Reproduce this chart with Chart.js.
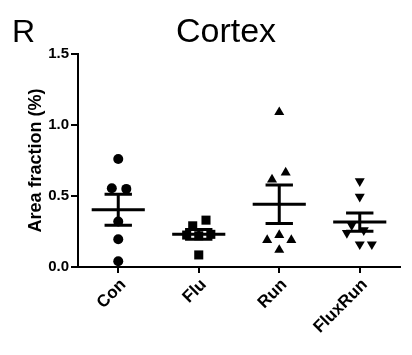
<!DOCTYPE html>
<html>
<head>
<meta charset="utf-8">
<script src="https://cdn.jsdelivr.net/npm/chart.js@4.4.1/dist/chart.umd.min.js"></script>
<style>
  html, body { margin: 0; padding: 0; background: #fff; }
  #wrap { width: 412px; height: 355px; }
</style>
</head>
<body>
<div id="wrap"><canvas id="cortexChart" width="412" height="355"></canvas></div>
<script>
const categories = ['Con', 'Flu', 'Run', 'FluxRun'];
const yTicks = [0, 0.5, 1.0, 1.5];

// area fraction (%) per animal
const conValues = [0.76, 0.555, 0.55, 0.32, 0.195, 0.04];
const fluValues = [0.33, 0.29, 0.225, 0.22, 0.23, 0.085];
const runValues = [1.09, 0.665, 0.615, 0.225, 0.19, 0.19, 0.12];
const fluxRunValues = [0.605, 0.495, 0.295, 0.26, 0.24, 0.16, 0.16];

// horizontal scatter spread (category units)
const conSpread = [0, -0.08, 0.1, 0, 0, 0];
const fluSpread = [0.09, -0.075, -0.15, 0, 0.15, 0];
const runSpread = [0, 0.08, -0.09, 0, -0.15, 0.15, 0];
const fluxRunSpread = [0, 0, -0.1, 0.05, -0.16, 0, 0.15];

const groups = [
    { values: conValues, spread: conSpread, style: 'circle', radius: 5, rotation: 0 },
    { values: fluValues, spread: fluSpread, style: 'rect', radius: 6.4, rotation: 0 },
    { values: runValues, spread: runSpread, style: 'triangle', radius: 5.8, rotation: 0 },
    { values: fluxRunValues, spread: fluxRunSpread, style: 'triangle', radius: 5.8, rotation: 180 }
];

function mean(a) { return a.reduce((s, v) => s + v, 0) / a.length; }
function sem(a) {
    const m = mean(a);
    const sd = Math.sqrt(a.reduce((s, v) => s + (v - m) * (v - m), 0) / (a.length - 1));
    return sd / Math.sqrt(a.length);
}

const datasets = groups.map((g, i) => ({
    type: 'scatter',
    data: g.values.map((v, j) => ({ x: i + g.spread[j], y: v })),
    pointStyle: g.style,
    pointRadius: g.radius,
    pointRotation: g.rotation,
    backgroundColor: '#000',
    borderColor: '#000',
    borderWidth: 0
}));

// mean +/- SEM bars, gaps split the segments
const barPts = [];
groups.forEach((g, i) => {
    const m = mean(g.values), e = sem(g.values);
    barPts.push({ x: i - 0.33, y: m }, { x: i + 0.33, y: m }, { x: i, y: null });
    barPts.push({ x: i, y: m - e }, { x: i, y: m + e }, { x: i, y: null });
    barPts.push({ x: i - 0.17, y: m + e }, { x: i + 0.17, y: m + e }, { x: i, y: null });
    barPts.push({ x: i - 0.17, y: m - e }, { x: i + 0.17, y: m - e }, { x: i, y: null });
});
datasets.push({
    type: 'line',
    data: barPts,
    borderColor: '#000',
    borderWidth: 3,
    pointRadius: 0,
    spanGaps: false,
    fill: false
});

const headerText = {
    id: 'headerText',
    afterDraw(chart) {
        const c = chart.ctx;
        c.save();
        c.fillStyle = '#000';
        c.textBaseline = 'alphabetic';
        c.font = '32px "Liberation Sans", Arial, sans-serif';
        c.textAlign = 'left';
        c.fillText('R', 12, 42);
        c.font = '34px "Liberation Sans", Arial, sans-serif';
        c.textAlign = 'center';
        c.fillText('Cortex', 226, 42);
        c.restore();
    }
};

const ctx = document.getElementById('cortexChart').getContext('2d');
const cortexChart = new Chart(ctx, {
    type: 'scatter',
    data: { datasets: datasets },
    options: {
        responsive: false,
        animation: false,
        layout: { padding: { top: 54, right: 12, left: 20, bottom: 0 } },
        scales: {
            x: {
                type: 'linear',
                min: -0.5,
                max: 3.5,
                afterBuildTicks: (s) => { s.ticks = categories.map((c, i) => ({ value: i })); },
                afterFit: (s) => { s.height = 88; },
                ticks: {
                    callback: (v) => categories[v],
                    autoSkip: false,
                    minRotation: 45,
                    maxRotation: 45,
                    padding: 2,
                    labelOffset: 5,
                    color: '#000',
                    font: { family: '"Liberation Sans", Arial, sans-serif', size: 17, weight: 'bold' }
                },
                grid: { display: true, drawOnChartArea: false, tickLength: 6, color: '#000', lineWidth: 2 },
                border: { color: '#000', width: 2 }
            },
            y: {
                min: 0,
                max: 1.5,
                afterBuildTicks: (s) => { s.ticks = yTicks.map(v => ({ value: v })); },
                afterFit: (s) => { s.width = 58; },
                ticks: {
                    callback: (v) => v.toFixed(1),
                    padding: 2,
                    color: '#000',
                    font: { family: '"Liberation Sans", Arial, sans-serif', size: 15, weight: 'bold' }
                },
                grid: { display: true, drawOnChartArea: false, tickLength: 7, color: '#000', lineWidth: 2 },
                border: { color: '#000', width: 2 },
                title: {
                    display: true,
                    text: 'Area fraction (%)',
                    color: '#000',
                    padding: { top: 5, bottom: 0 },
                    font: { family: '"Liberation Sans", Arial, sans-serif', size: 18, weight: 'bold' }
                }
            }
        },
        plugins: {
            legend: { display: false },
            tooltip: { enabled: false }
        }
    },
    plugins: [headerText]
});
</script>
</body>
</html>
